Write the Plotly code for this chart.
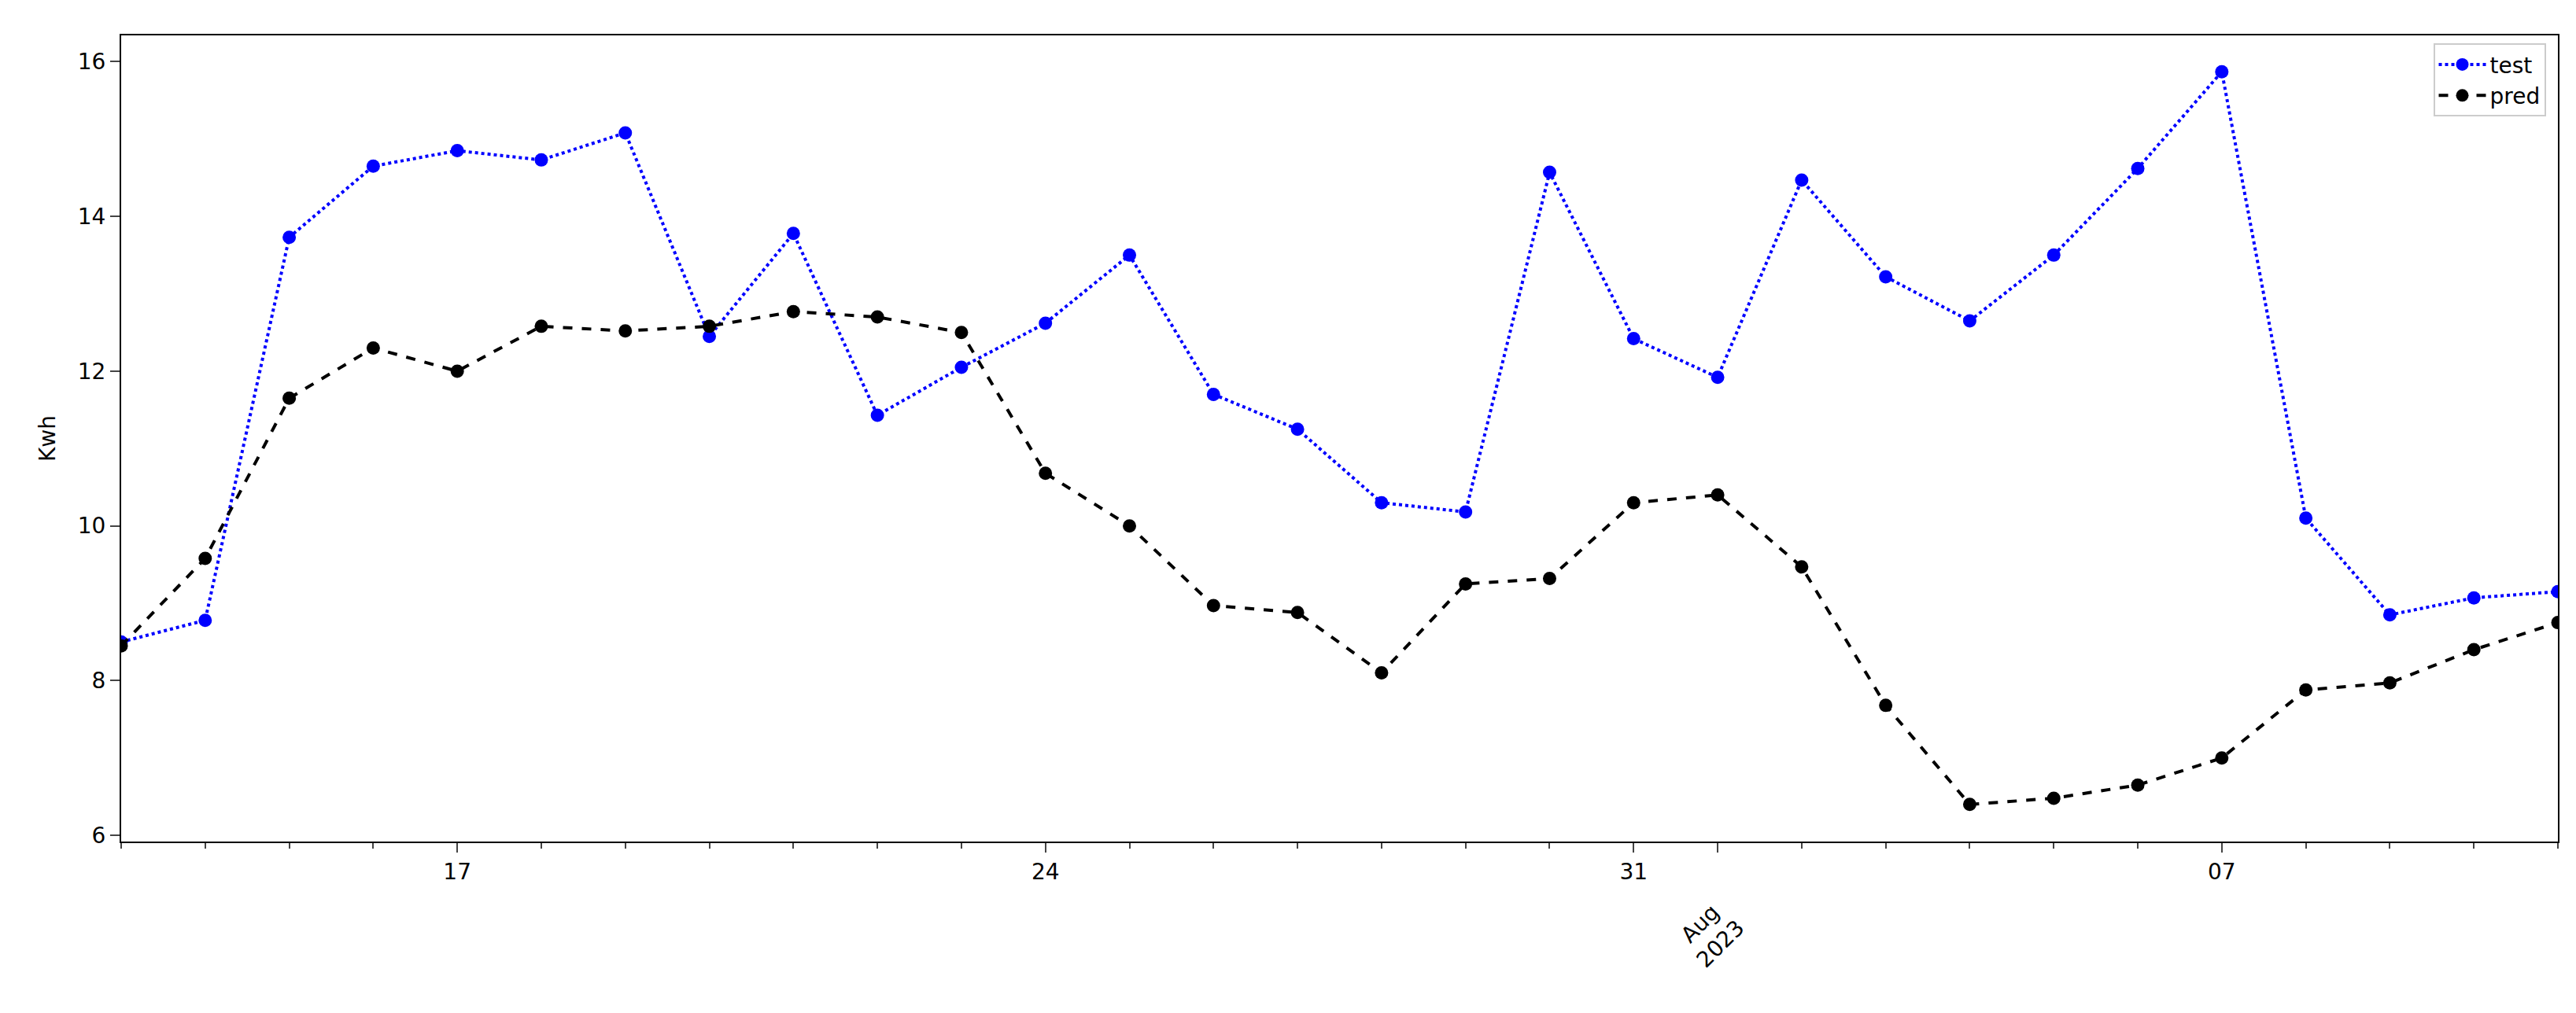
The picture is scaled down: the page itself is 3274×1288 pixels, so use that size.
import plotly.graph_objects as go
import pandas as pd

dates = pd.date_range("2023-07-13", "2023-08-11", freq="D")
test = [8.5, 8.78, 13.73, 14.65, 14.85, 14.73, 15.08, 12.45, 13.78, 11.43, 12.05, 12.62, 13.5, 11.7, 11.25,
        10.3, 10.18, 14.57, 12.42, 11.92, 14.47, 13.22, 12.65, 13.5, 14.62, 15.87, 10.1, 8.85, 9.07, 9.15]
pred = [8.45, 9.58, 11.65, 12.3, 12.0, 12.58, 12.52, 12.58, 12.77, 12.7, 12.5, 10.68, 10.0, 8.97, 8.88,
        8.1, 9.25, 9.32, 10.3, 10.4, 9.47, 7.68, 6.4, 6.48, 6.65, 7.0, 7.88, 7.97, 8.4, 8.75]
tick_dates = ["2023-07-17", "2023-07-24", "2023-07-31", "2023-08-01", "2023-08-07"]
tick_text = ["17", "24", "31", "", "07"]

fig = go.Figure()
fig.add_trace(go.Scatter(x=dates, y=test, name="test", mode="lines+markers",
                         line=dict(color="blue", dash="dot", width=4), marker=dict(size=17, color="blue")))
fig.add_trace(go.Scatter(x=dates, y=pred, name="pred", mode="lines+markers",
                         line=dict(color="black", dash="dash", width=4), marker=dict(size=17, color="black")))
font = dict(family="DejaVu Sans", size=28, color="black")
fig.update_layout(
    width=3274, height=1288, paper_bgcolor="white", plot_bgcolor="white",
    margin=dict(l=146, r=31, t=37, b=226), font=font,
    xaxis=dict(range=[dates[0], dates[-1]], tickvals=tick_dates, ticktext=tick_text,
               showgrid=False, showline=True, linecolor="black", linewidth=2, mirror=True,
               ticks="outside", ticklen=12, tickwidth=2, tickangle=0,
               minor=dict(ticks="outside", ticklen=7, tickwidth=1.5, dtick=86400000, tick0="2023-07-13")),
    yaxis=dict(range=[5.92, 16.34], tickvals=[6, 8, 10, 12, 14, 16], showgrid=False, zeroline=False,
               showline=True, linecolor="black", linewidth=2, mirror=True, ticks="outside", ticklen=12,
               tickwidth=2, title=dict(text="Kwh", font=font, standoff=20)),
    legend=dict(x=0.995, y=0.99, xanchor="right", yanchor="top", bordercolor="#cccccc", borderwidth=2,
                bgcolor="white", font=font, itemwidth=60),
)
fig.add_annotation(x="2023-08-01", y=0, yref="paper", yshift=-65, xshift=-10, text="Aug<br>2023",
                   textangle=-45, showarrow=False, font=font, yanchor="top")
fig.write_html("out.html")
